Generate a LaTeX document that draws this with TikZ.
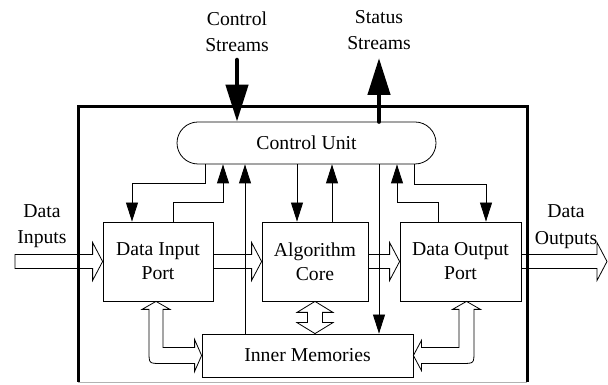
\documentclass[tikz,border=0pt]{standalone}
\usepackage{fontspec}
\setmainfont{Liberation Serif}
\usetikzlibrary{arrows.meta,calc}

% horizontal hollow (outline) arrow from #1 to the tip #2
\newcommand\hollowH[2]{%
  \draw[hollow] let \p1=(#1), \p2=(#2) in
    (\x1,\y2+7pt) -- (\x2-10pt,\y2+7pt) -- (\x2-10pt,\y2+19pt) -- (\x2,\y2)
    -- (\x2-10pt,\y2-19pt) -- (\x2-10pt,\y2-7pt) -- (\x1,\y2-7pt) -- cycle;}

\begin{document}
\begin{tikzpicture}[x=1pt,y=1pt,
  font=\fontsize{19.7}{24}\selectfont,
  box/.style={draw, line width=0.8pt, minimum height=79pt, align=center, inner sep=0pt},
  lbl/.style={align=center, inner sep=0pt, font=\fontsize{19.7}{26.5}\selectfont},
  ctl/.style={line width=0.8pt, -{Triangle[length=19pt,width=12pt]}},
  bigarrow/.style={line width=4.5pt, line cap=round, -{Triangle[length=37pt,width=22pt]}},
  hollow/.style={draw, line width=0.8pt, line join=miter}]
\useasboundingbox (0,0) rectangle (608,385);

% enclosing frame
\draw[line width=3pt] (78,3) -- (78,278) -- (527,278) -- (527,3);
\draw[gray!60, line width=0.8pt] (78,3) -- (527,3);

% blocks
\node[box, minimum width=259pt, minimum height=42pt, rounded corners=21pt] (cu) at (306.5,242) {Control Unit};
\node[box, minimum width=110pt] (dip) at (158,123.5) {Data Input\\Port};
\node[box, minimum width=106pt] (ac) at (315,123.5) {Algorithm\\Core};
\node[box, minimum width=121pt] (dop) at (460.5,123.5) {Data Output\\Port};
\node[box, minimum width=211pt, minimum height=43pt] (im) at (307.5,29.5) {Inner Memories};

% outside labels
\node[lbl] (cstxt) at (237,353) {Control\\Streams};
\node[lbl] (sstxt) at (379,355) {Status\\Streams};
\node[lbl] (ditxt) at (42,159) {Data\\Inputs};
\node[lbl] (dotxt) at (566,158.5) {Data\\Outputs};

% control / status streams
\coordinate (csTop) at (237,325);
\draw[bigarrow] (csTop) -- (csTop |- cu.north);
\coordinate (ssTop) at (379,327);
\draw[bigarrow] (ssTop |- cu.north) -- (ssTop);

% control connections
\coordinate (p1) at ([xshift=-101.5pt]cu.south);
\coordinate (q1) at ([xshift=-26pt]dip.north);
\draw[ctl] (p1) -- ++(0,-19) -| (q1);
\coordinate (q2) at ([xshift=15pt]dip.north);
\coordinate (p2) at ([xshift=-83.5pt]cu.south);
\draw[ctl] (q2) -- ++(0,19) -| (p2);
\coordinate (p3) at ([xshift=-61.5pt]cu.south);
\draw[ctl] (p3 |- im.north) -- (p3);
\coordinate (p4) at ([xshift=-9.5pt]cu.south);
\draw[ctl] (p4) -- (p4 |- ac.north);
\coordinate (p5) at ([xshift=25.5pt]cu.south);
\draw[ctl] (p5 |- ac.north) -- (p5);
\coordinate (p6) at ([xshift=72.5pt]cu.south);
\draw[ctl] (p6) -- (p6 |- im.north);
\coordinate (q7) at ([xshift=-22.5pt]dop.north);
\coordinate (p7) at ([xshift=90.5pt]cu.south);
\draw[ctl] (q7) -- ++(0,19) -| (p7);
\coordinate (p8) at ([xshift=107.5pt]cu.south);
\coordinate (q8) at ([xshift=25.5pt]dop.north);
\draw[ctl] (p8) -- ++(0,-20) -| (q8);

% data path
\coordinate (din) at (15,123.5);
\coordinate (dout) at (607,123.5);
\hollowH{din}{dip.west}
\hollowH{dip.east}{ac.west}
\hollowH{ac.east}{dop.west}
\hollowH{dop.east}{dout}

% core <-> memories
\draw[hollow] let \p1=(ac.south), \p2=(im.north) in
  (\x1,\y1) -- (\x1+18pt,\y1-11pt) -- (\x1+7.5pt,\y1-11pt) -- (\x1+7.5pt,\y2+11pt)
  -- (\x1+18pt,\y2+11pt) -- (\x1,\y2) -- (\x1-18pt,\y2+11pt) -- (\x1-7.5pt,\y2+11pt)
  -- (\x1-7.5pt,\y1-11pt) -- (\x1-18pt,\y1-11pt) -- cycle;

% input port <-> memories
\coordinate (lv) at ([xshift=-2pt]dip.south);
\draw[hollow] let \p1=(lv), \p2=(im.west) in
  (\x1,\y1) -- (\x1+14pt,\y1-8pt) -- (\x1+7pt,\y1-8pt) -- (\x1+7pt,\y2+8pt)
  -- (\x2-7pt,\y2+8pt) -- (\x2-7pt,\y2+16pt) -- (\x2,\y2) -- (\x2-7pt,\y2-16pt)
  -- (\x2-7pt,\y2-8pt) -- (\x1+5pt,\y2-8pt) .. controls (\x1-7pt,\y2-8pt) .. (\x1-7pt,\y2+4pt)
  -- (\x1-7pt,\y1-8pt) -- (\x1-14pt,\y1-8pt) -- cycle;

% output port <-> memories
\coordinate (rv) at ([xshift=6pt]dop.south);
\draw[hollow] let \p1=(rv), \p2=(im.east) in
  (\x1,\y1) -- (\x1-14pt,\y1-8pt) -- (\x1-7.5pt,\y1-8pt) -- (\x1-7.5pt,\y2+8pt)
  -- (\x2+8pt,\y2+8pt) -- (\x2+8pt,\y2+15pt) -- (\x2,\y2) -- (\x2+8pt,\y2-15pt)
  -- (\x2+8pt,\y2-8pt) -- (\x1-5pt,\y2-8pt) .. controls (\x1+7.5pt,\y2-8pt) .. (\x1+7.5pt,\y2+4pt)
  -- (\x1+7.5pt,\y1-8pt) -- (\x1+14pt,\y1-8pt) -- cycle;
\end{tikzpicture}
\end{document}
